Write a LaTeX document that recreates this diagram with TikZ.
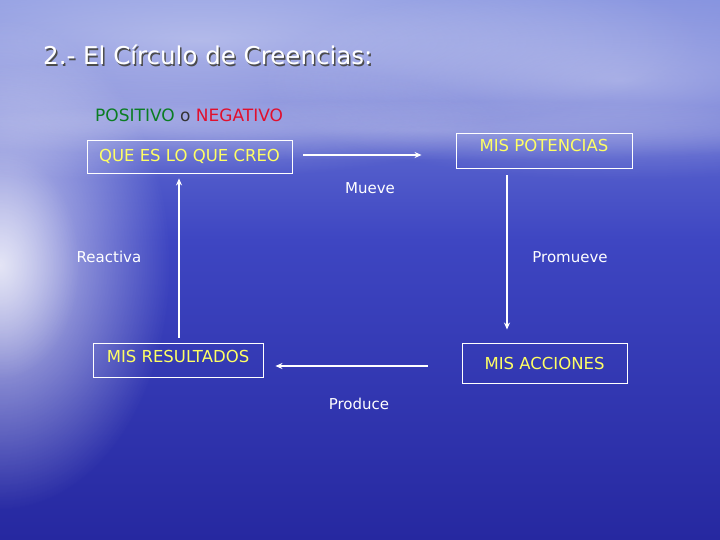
\documentclass[tikz,border=0pt]{standalone}
\usepackage{fontspec}
\setmainfont{DejaVu Sans}
\usetikzlibrary{arrows.meta, positioning, shadings, fadings}
\definecolor{skytop}{RGB}{128,142,222}
\definecolor{seamid}{RGB}{62,70,194}
\definecolor{seadeep}{RGB}{38,40,160}
\definecolor{boxtext}{RGB}{255,255,100}
\definecolor{posgreen}{RGB}{10,125,35}
\definecolor{negred}{RGB}{225,15,45}
\tikzfading[name=softglow, inner color=transparent!0, outer color=transparent!100]
\tikzset{
  box/.style = {draw=white, line width=0.9pt, text=boxtext, font=\fontsize{16.5}{19}\selectfont, inner sep=0pt},
  flow/.style = {draw=white, line width=1.6pt, -{Stealth[length=7pt, width=6pt]}},
  lbl/.style = {text=white, font=\fontsize{15}{18}\selectfont},
  cloud/.style = {white, path fading=softglow, fit fading=true}
}

\begin{document}
\begin{tikzpicture}[x=1pt, y=-1pt]

  %% Circulo de Creencias

  % Background
  \useasboundingbox (0,0) rectangle (720,540);
  \shade[top color=skytop, bottom color=seamid] (0,0) rectangle (720,240);
  \shade[top color=seamid, bottom color=seadeep] (0,240) rectangle (720,540);
  \begin{scope}
    \clip (0,0) rectangle (720,540);
    \fill[cloud, opacity=0.45] (-300,-60) rectangle (700,140);
    \fill[cloud, opacity=0.4] (260,-20) rectangle (980,180);
    \fill[cloud, opacity=0.3] (-200,60) rectangle (500,180);
    \fill[cloud, opacity=0.25] (-100,100) rectangle (940,160);
    \fill[cloud, opacity=0.75] (-170,20) rectangle (170,510);
    \fill[cloud, opacity=0.45] (-80,150) rectangle (80,380);
  \end{scope}

  % Title
  \node[anchor=base west, inner sep=0pt, text=black!70, font=\fontsize{24.5}{30}\selectfont] at (44.5,66.5) {2.- El Círculo de Creencias:};
  \node[anchor=base west, inner sep=0pt, text=white, font=\fontsize{24.5}{30}\selectfont] (title) at (43,65) {2.- El Círculo de Creencias:};
  \node[anchor=west, inner sep=0pt, font=\fontsize{17}{20}\selectfont] (polar) at (95,115)
    {\textcolor{posgreen}{POSITIVO} \textcolor{black!80}{o} \textcolor{negred}{NEGATIVO}};

  % Boxes
  \node[box, minimum width=205pt, minimum height=33pt] (creo) at (189.5,156.5) {QUE ES LO QUE CREO};
  \node[box, minimum width=176pt, minimum height=35pt, text depth=10pt] (potencias) at (544,150.5) {MIS POTENCIAS};
  \node[box, minimum width=170pt, minimum height=34pt, text depth=8pt] (resultados) at (178,360) {MIS RESULTADOS};
  \node[box, minimum width=165pt, minimum height=40pt] (acciones) at (544.5,363) {MIS ACCIONES};

  % Arrows
  \draw[flow, shorten <=11pt, shorten >=34pt] ([yshift=1.5pt]creo.east) -- ([yshift=1.5pt]creo.east -| potencias.west);
  \draw[flow, shorten <=7pt, shorten >=13pt] ([xshift=-37pt]potencias.south) -- ([xshift=-37pt]potencias.south |- acciones.north);
  \draw[flow, shorten <=34pt, shorten >=12pt] ([yshift=-3pt]acciones.west) -- ([yshift=-3pt]acciones.west -| resultados.east);
  \draw[flow, shorten <=5pt, shorten >=5pt] ([xshift=1pt]resultados.north) -- ([xshift=1pt]resultados.north |- creo.south);

  % Labels
  \node[lbl] (mueve) at (370,188) {Mueve};
  \node[lbl] (promueve) at (570,257) {Promueve};
  \node[lbl] (produce) at (359,404) {Produce};
  \node[lbl] (reactiva) at (109,257) {Reactiva};

\end{tikzpicture}
\end{document}
